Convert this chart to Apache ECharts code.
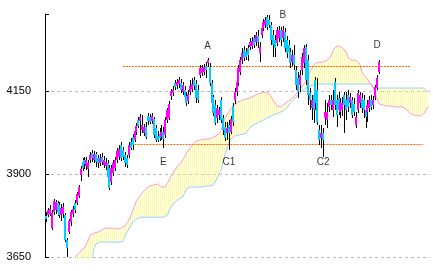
<!DOCTYPE html>
<html>
<head>
<meta charset="utf-8">
<script src="https://cdn.jsdelivr.net/npm/echarts@6/dist/echarts.min.js"></script>
<style>html,body{margin:0;padding:0;background:#fff;}#c{width:433px;height:271px;}</style>
</head>
<body>
<div id="c"></div>
<script>
// ---- data ----
const opens = [3773,3777,3779,3737,3785,3792,3813,3807,3777,3779,
3777,3701,3725,3755,3779,3813,3813,3834,3897,3936,
3942,3924,3915,3942,3963,3942,3960,3948,3933,3951,
3927,3924,3933,3918,3876,3903,3918,3942,3951,3987,
3972,3957,3948,3957,3996,4011,4002,4026,4063,4060,
4032,4023,4041,4075,4072,4060,4066,4038,4014,4020,
4011,4026,4017,4063,4069,4135,4144,4174,4165,4171,
4174,4147,4153,4135,4120,4147,4156,4183,4171,4153,
4198,4204,4207,4225,4234,4222,4174,4132,4108,4069,
4078,4123,4069,4041,4023,4048,4026,4105,4123,4147,
4174,4207,4243,4273,4267,4279,4282,4285,4310,4298,
4316,4264,4319,4340,4349,4373,4364,4349,4319,4304,
4295,4310,4334,4310,4328,4304,4289,4267,4237,4258,
4213,4189,4168,4213,4234,4282,4243,4144,4099,4138,
4183,4153,4032,4008,4023,4069,4063,4102,4123,4093,
4177,4123,4129,4087,4093,4138,4123,4138,4114,4123,
4111,4048,4093,4114,4129,4123,4093,4087,4099,4123,
4108,4132,4159,4207];
const closes = [3764,3792,3795,3782,3819,3816,3785,3777,3798,3801,
3701,3677,3758,3785,3795,3792,3840,3861,3915,3918,
3930,3942,3933,3957,3948,3960,3936,3933,3948,3936,
3942,3936,3891,3858,3918,3933,3942,3969,3975,3948,
3951,3933,3927,3987,3978,3987,4029,4045,4045,4072,
4048,4041,4011,4060,4057,4075,4017,4002,4002,4008,
4026,4005,4063,4093,4111,4150,4153,4162,4177,4183,
4153,4168,4132,4114,4141,4165,4171,4165,4129,4123,
4219,4219,4222,4213,4243,4174,4114,4084,4054,4099,
4093,4063,4032,4008,4038,4023,4066,4057,4147,4177,
4219,4243,4264,4249,4252,4258,4298,4301,4289,4319,
4298,4282,4340,4358,4364,4343,4349,4304,4289,4279,
4334,4334,4304,4334,4279,4264,4267,4234,4258,4228,
4168,4147,4198,4252,4279,4183,4138,4123,4123,4093,
4114,4057,4002,4023,4002,4087,4087,4123,4108,4123,
4108,4078,4093,4117,4114,4108,4093,4102,4132,4078,
4087,4072,4144,4138,4099,4093,4072,4108,4123,4102,
4123,4162,4189,4237];
const highs = [3785,3798,3807,3792,3825,3822,3819,3816,3810,3813,
3782,3707,3764,3792,3804,3822,3846,3867,3924,3948,
3951,3951,3942,3966,3972,3969,3966,3957,3960,3963,
3954,3948,3942,3927,3927,3942,3951,3978,3987,3996,
3981,3966,3957,3996,4008,4020,4038,4054,4072,4081,
4078,4051,4057,4084,4081,4084,4072,4048,4029,4038,
4048,4041,4072,4099,4120,4156,4165,4183,4186,4192,
4186,4177,4165,4147,4153,4183,4189,4192,4183,4168,
4228,4228,4231,4237,4249,4234,4183,4138,4123,4108,
4102,4132,4078,4057,4057,4063,4075,4114,4159,4189,
4228,4252,4279,4285,4279,4289,4310,4313,4319,4328,
4334,4298,4349,4367,4373,4379,4379,4358,4334,4319,
4343,4346,4343,4346,4340,4316,4304,4279,4273,4289,
4225,4207,4213,4264,4289,4292,4258,4159,4138,4147,
4192,4189,4048,4048,4038,4123,4114,4138,4138,4153,
4189,4138,4147,4129,4132,4147,4147,4153,4144,4132,
4129,4087,4153,4147,4144,4138,4108,4123,4135,4138,
4135,4168,4198,4243];
const lows = [3755,3770,3773,3731,3777,3779,3773,3767,3758,3767,
3695,3650,3719,3743,3770,3782,3807,3828,3879,3909,
3915,3912,3891,3933,3936,3933,3921,3918,3924,3927,
3918,3912,3879,3852,3867,3894,3909,3933,3942,3939,
3942,3921,3918,3948,3972,3972,3996,4017,4038,4014,
4023,4014,4005,4048,4051,4051,4008,3996,3996,3999,
4002,3978,4008,4054,4063,4123,4135,4153,4156,4159,
4144,4138,4126,4105,4111,4138,4147,4153,4114,4114,
4189,4195,4198,4189,4222,4165,4105,4075,4048,4054,
4063,4054,4017,3999,4002,3972,4020,4045,4111,4135,
4165,4198,4231,4240,4243,4240,4273,4276,4279,4285,
4279,4237,4310,4331,4340,4334,4340,4289,4252,4252,
4285,4298,4285,4298,4267,4249,4237,4219,4225,4213,
4153,4129,4147,4198,4219,4168,4108,4093,4063,4054,
4093,4048,3987,3978,3951,4048,4038,4087,4093,4072,
4093,4041,4078,4069,4075,4023,4063,4087,4099,4069,
4075,4038,4084,4099,4084,4069,4038,4057,4087,4093,
4096,4123,4153,4201];

// Ichimoku leading spans (cloud), 200 periods incl. 26 ahead
const senkouA = [null,null,null,null,null,null,null,null,null,null,
null,null,null,null,null,3647,3656,3662,3668,3674,
3677,3683,3701,3716,3719,3722,3722,3725,3728,3731,
3734,3737,3737,3737,3737,3737,3737,3734,3734,3737,
3740,3743,3752,3761,3773,3789,3804,3819,3828,3834,
3843,3849,3855,3861,3864,3867,3867,3870,3870,3864,
3861,3861,3861,3864,3882,3894,3903,3912,3921,3927,
3933,3939,3951,3963,3972,3978,3987,3993,3999,4002,
4002,4002,4005,4005,4005,4005,4008,4011,4014,4017,
4023,4033,4051,4069,4078,4087,4096,4102,4108,4114,
4117,4120,4123,4123,4126,4126,4129,4132,4135,4138,
4141,4144,4144,4147,4147,4144,4141,4132,4123,4114,
4105,4099,4102,4108,4111,4117,4120,4123,4129,4135,
4141,4150,4156,4162,4168,4180,4192,4207,4216,4225,
4234,4237,4237,4237,4237,4237,4243,4246,4255,4270,
4280,4286,4286,4283,4280,4276,4267,4249,4243,4243,
4243,4243,4240,4231,4210,4198,4192,4186,4177,4168,
4159,4144,4126,4111,4108,4108,4105,4105,4105,4105,
4105,4102,4102,4102,4102,4102,4099,4096,4090,4084,
4081,4078,4078,4075,4075,4075,4078,4087,4099,4102];
const senkouB = [null,null,null,null,null,null,null,null,null,null,
null,null,null,null,null,null,null,null,null,null,
null,null,null,null,3647,3677,3689,3692,3695,3695,
3695,3695,3695,3695,3695,3695,3695,3695,3695,3695,
3698,3710,3725,3731,3743,3755,3758,3764,3767,3770,
3770,3770,3770,3770,3770,3770,3770,3770,3770,3770,
3770,3770,3770,3776,3789,3801,3807,3816,3822,3825,
3828,3831,3843,3855,3861,3861,3861,3861,3861,3861,
3861,3861,3861,3864,3864,3864,3867,3867,3873,3888,
3900,3912,3936,3957,3975,3993,4005,4008,4014,4017,
4017,4020,4020,4023,4023,4033,4039,4045,4048,4051,
4054,4057,4060,4063,4066,4069,4072,4075,4078,4081,
4081,4084,4087,4090,4093,4099,4105,4114,4120,4126,
4132,4138,4144,4150,4156,4159,4162,4165,4168,4168,
4171,4171,4171,4171,4171,4171,4171,4171,4171,4171,
4171,4171,4171,4171,4171,4171,4171,4171,4171,4171,
4171,4171,4171,4171,4171,4171,4171,4171,4171,4171,
4159,4159,4159,4159,4159,4159,4159,4159,4159,4159,
4159,4159,4159,4159,4159,4159,4159,4159,4159,4159,
4159,4159,4159,4159,4159,4159,4159,4159,4150,4147];

// horizontal reference levels (orange dotted)
const levelValues = [4224, 3989];
const levelFrom = [40, 46.25];
const levelTo = [189, 196];

// annotation letters
const noteText = ['A', 'B', 'C1', 'C2', 'D', 'E'];
const notePeriod = [84.4, 123.1, 95.3, 143.9, 171.7, 61.0];
const noteValue = [4286, 4377, 3935, 3935, 4287, 3935];

// y axis ticks
const Y_MIN = 3650, Y_MAX = 4382, Y_STEP = 250;
const tickLabels = [3650, 3900, 4150];

// ---- build ----
const periods = senkouA.map((_, i) => String(i + 1));
const candleData = opens.map((o, i) => [i, o, closes[i], lows[i], highs[i]]);
const bandBase = [], bandSize = [];
for (let i = 0; i < senkouA.length; i++) {
  const a = senkouA[i], b = senkouB[i];
  if (a == null) { bandBase.push(null); bandSize.push(null); continue; }
  const lo = b == null ? Y_MIN - 20 : Math.min(a, b);
  const hi = b == null ? a : Math.max(a, b);
  bandBase.push(lo); bandSize.push(hi - lo);
}

const pat = document.createElement('canvas');
pat.width = 2; pat.height = 2;
const pg = pat.getContext('2d');
pg.fillStyle = '#ffff99';
pg.fillRect(0, 0, 1, 2);

const UP = '#ff00ff', DOWN = '#00ccff';

function renderCandle(params, api) {
  const i = api.value(0);
  const o = api.value(1), c = api.value(2), lo = api.value(3), hi = api.value(4);
  const pO = api.coord([i, o]), pC = api.coord([i, c]);
  const pL = api.coord([i, lo]), pH = api.coord([i, hi]);
  const x = Math.round(pO[0]);
  const top = Math.round(Math.min(pO[1], pC[1]));
  const bot = Math.round(Math.max(pO[1], pC[1]));
  const yH = Math.round(pH[1]), yL = Math.round(pL[1]);
  return {
    type: 'group',
    children: [
      { type: 'rect', shape: { x: x, y: yH, width: 1, height: Math.max(1, yL - yH) }, style: { fill: '#000' } },
      { type: 'rect', shape: { x: x - 1, y: top, width: 2, height: Math.max(1, bot - top) }, style: { fill: c >= o ? UP : DOWN } }
    ]
  };
}

const chart = echarts.init(document.getElementById('c'), null, { renderer: 'canvas' });
chart.setOption({
  animation: false,
  backgroundColor: '#fff',
  grid: { left: 45, right: 3, top: 14, bottom: 14, containLabel: false },
  xAxis: { type: 'category', data: periods, boundaryGap: true, show: false },
  yAxis: {
    type: 'value', min: Y_MIN, max: Y_MAX, interval: Y_STEP,
    axisLine: { show: true, lineStyle: { color: '#000', width: 1 } },
    axisTick: { show: true, inside: true, length: 4, lineStyle: { color: '#000' } },
    axisLabel: {
      color: '#000', fontSize: 11, fontFamily: 'Liberation Sans, Arial, sans-serif', margin: 14,
      formatter: v => tickLabels.indexOf(v) >= 0 ? String(v) : ''
    },
    splitLine: { show: true, lineStyle: { color: ['#bbbbbb', '#bbbbbb', '#bbbbbb', 'rgba(0,0,0,0)'], type: [3, 3], width: 1 } }
  },
  series: [
    { name: 'base', type: 'line', data: bandBase, stack: 'kumo', symbol: 'none', lineStyle: { opacity: 0 }, silent: true, z: 1 },
    { name: 'cloud', type: 'line', data: bandSize, stack: 'kumo', symbol: 'none', lineStyle: { opacity: 0 },
      areaStyle: { color: { image: pat, repeat: 'repeat' }, opacity: 1 }, silent: true, z: 1 },
    { name: 'Senkou B', type: 'line', data: senkouB, symbol: 'none', lineStyle: { color: '#99ccff', width: 1 }, z: 2 },
    { name: 'Senkou A', type: 'line', data: senkouA, symbol: 'none', lineStyle: { color: '#ff99cc', width: 1 }, z: 2,
      markLine: {
        silent: true, symbol: 'none', label: { show: false },
        lineStyle: { color: '#ff6600', width: 1, type: [2, 1] },
        data: levelValues.map((v, k) => [{ coord: [levelFrom[k], v] }, { coord: [levelTo[k], v] }])
      }
    },
    { name: 'price', type: 'custom', renderItem: renderCandle, data: candleData, encode: { x: 0, y: [1, 2, 3, 4] }, z: 5 },
    { name: 'notes', type: 'scatter', symbol: 'circle', symbolSize: 1, itemStyle: { color: 'rgba(0,0,0,0)' },
      data: noteText.map((t, k) => ({ value: [notePeriod[k], noteValue[k]], name: t })),
      label: { show: true, position: 'inside', formatter: p => p.name, color: '#000', fontSize: 10, fontFamily: 'Liberation Sans, Arial, sans-serif' },
      z: 6 }
  ]
});
</script>
</body>
</html>
